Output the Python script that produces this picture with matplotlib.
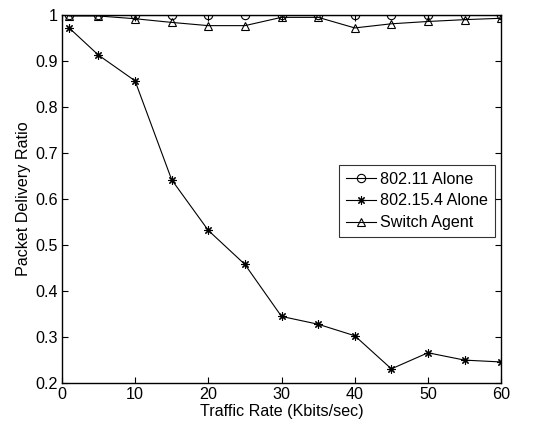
import matplotlib
matplotlib.use("Agg")
import matplotlib.pyplot as plt

plt.rcParams['font.family'] = ['Liberation Sans', 'DejaVu Sans']

x = [1, 5, 10, 15, 20, 25, 30, 35, 40, 45, 50, 55, 60]
wifi = [1.0, 1.0, 1.0, 1.0, 1.0, 1.0, 1.0, 1.0, 1.0, 1.0, 1.0, 1.0, 1.0]
zigbee = [0.972, 0.913, 0.857, 0.642, 0.532, 0.458, 0.345, 0.328, 0.303, 0.231, 0.266, 0.250, 0.246]
switch = [0.998, 0.998, 0.992, 0.984, 0.977, 0.977, 0.995, 0.995, 0.972, 0.981, 0.986, 0.990, 0.993]

fig = plt.figure(figsize=(5.52, 4.3), dpi=100)
ax = fig.add_axes([0.112, 0.109, 0.796, 0.856])

ax.plot(x, wifi, color='black', lw=0.8, marker='o', ms=6, mfc='none', mec='black', mew=0.8, label='802.11 Alone')
ax.plot(x, zigbee, color='black', lw=0.8, marker=(8, 2, 0), ms=6, mec='black', mew=0.8, label='802.15.4 Alone')
ax.plot(x, switch, color='black', lw=0.8, marker='^', ms=6, mfc='none', mec='black', mew=0.8, label='Switch Agent')

ax.set_xlim(0, 60)
ax.set_ylim(0.2, 1.0)
ax.set_xticks([0, 10, 20, 30, 40, 50, 60])
ax.set_yticks([0.2, 0.3, 0.4, 0.5, 0.6, 0.7, 0.8, 0.9, 1.0])
ax.set_yticklabels(['0.2', '0.3', '0.4', '0.5', '0.6', '0.7', '0.8', '0.9', '1'])
ax.tick_params(direction='in', labelsize=11.6, top=True, right=True, length=4, width=0.8, pad=3)
for s in ax.spines.values():
    s.set_linewidth(1.0)
ax.set_xlabel('Traffic Rate (Kbits/sec)', fontsize=11.6, labelpad=1)
ax.set_ylabel('Packet Delivery Ratio', fontsize=11.6, labelpad=3)

leg = ax.legend(loc='center right', bbox_to_anchor=(0.985, 0.495), borderaxespad=0, fontsize=11.6,
                frameon=True, fancybox=False, edgecolor='black', handlelength=1.9, borderpad=0.4,
                labelspacing=0.42, handletextpad=0.25)
leg.get_frame().set_linewidth(0.8)

fig.savefig('out.png', dpi=100)
